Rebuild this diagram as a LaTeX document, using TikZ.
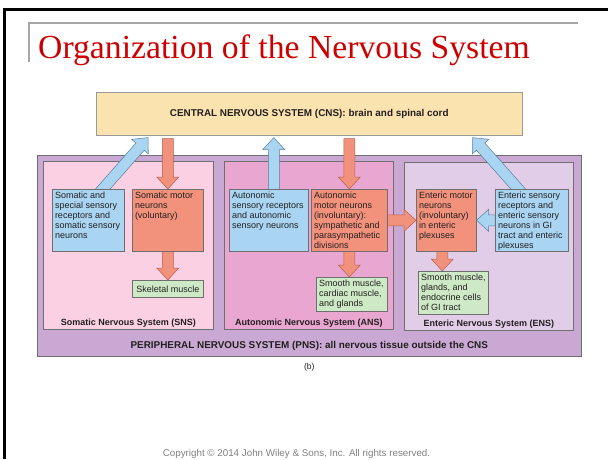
\documentclass[tikz,border=0pt]{standalone}
\usepackage{fontspec}
\setmainfont{Liberation Sans}
\newfontfamily\titlefont{Liberation Serif}
\usepackage{tikz}
\usetikzlibrary{calc,positioning,backgrounds}

\definecolor{cnsfill}{HTML}{FBE3B0}
\definecolor{pnsfill}{HTML}{C9A9D3}
\definecolor{snsfill}{HTML}{FBD0E3}
\definecolor{ansfill}{HTML}{E9A6D0}
\definecolor{ensfill}{HTML}{E2CDE9}
\definecolor{sensblue}{HTML}{A9D5F2}
\definecolor{sensedge}{HTML}{5B7F99}
\definecolor{motorred}{HTML}{F2927C}
\definecolor{motoredge}{HTML}{B5604E}
\definecolor{effgreen}{HTML}{CDE9C5}
\definecolor{edge}{HTML}{6F6F6F}
\definecolor{titlered}{HTML}{CC0000}
\definecolor{ink}{HTML}{231F20}

\tikzset{
  box/.style={draw=edge, line width=0.6pt, inner sep=0pt, anchor=north west},
  boxtext/.style={anchor=north west, inner sep=2.8pt, align=left, text=ink,
    font=\fontsize{9}{9.9}\selectfont},
  syslabel/.style={text=ink, inner sep=1pt, font=\bfseries\fontsize{9}{10}\selectfont},
  sensarrow/.style={fill=sensblue, draw=sensedge, line width=0.5pt},
  motorarrow/.style={fill=motorred, draw=motoredge, line width=0.5pt},
}

% block arrow: #1 style, #2 start, #3 tip
\newcommand\fatarrow[3]{
  \coordinate (fa-s) at (#2);
  \coordinate (fa-t) at (#3);
  \coordinate (fa-h) at ($(fa-t)!12pt!(fa-s)$);
  \filldraw[#1] ($(fa-s)!5.5pt!90:(fa-t)$) -- ($(fa-h)!5.5pt!90:(fa-t)$)
    -- ($(fa-h)!11pt!90:(fa-t)$) -- (fa-t) -- ($(fa-h)!11pt!-90:(fa-t)$)
    -- ($(fa-h)!5.5pt!-90:(fa-t)$) -- ($(fa-s)!5.5pt!-90:(fa-t)$) -- cycle;
}

\begin{document}
\begin{tikzpicture}[x=1pt,y=-1pt]
\useasboundingbox (0,0) rectangle (608,459);
\draw[line width=2.5pt] (608,9.5) -- (4.3,9.5) -- (4.3,459);
\draw[black!35, line width=1.5pt] (29,62) -- (29,23) -- (578,23);
\node[anchor=base west, inner sep=0pt, text=titlered, font=\titlefont\fontsize{33.7}{36}\selectfont] (title) at (38,58) {Organization of the Nervous System};

\begin{scope}[on background layer]
\node[box, draw=black!40, fill=cnsfill, minimum width=426, minimum height=43, text=ink, font=\bfseries\fontsize{9.9}{12}\selectfont] (cns) at (96,92) {CENTRAL NERVOUS SYSTEM (CNS): brain and spinal cord};
\node[box, fill=pnsfill, minimum width=544, minimum height=201] (pns) at (37,155) {};
\node[box, fill=snsfill, minimum width=170, minimum height=168] (sns) at (43,161) {};
\node[box, fill=ansfill, minimum width=169, minimum height=168] (ans) at (224,161) {};
\node[box, fill=ensfill, minimum width=169, minimum height=168] (ens) at (404,161.5) {};
\node[syslabel, above=1pt of sns.south] (sns-name) {Somatic Nervous System (SNS)};
\node[syslabel, above=1pt of ans.south] (ans-name) {Autonomic Nervous System (ANS)};
\node[syslabel, above=1pt of ens.south] (ens-name) {Enteric Nervous System (ENS)};
\node[syslabel, font=\bfseries\fontsize{9.9}{12}\selectfont, above=4.5pt of pns.south] (pns-name) {PERIPHERAL NERVOUS SYSTEM (PNS): all nervous tissue outside the CNS};
\node[text=ink, inner sep=1pt, font=\fontsize{8.5}{10}\selectfont, below=5.5pt of pns.south] (part) {(b)};
\end{scope}

% somatic
\node[box, fill=sensblue, minimum width=72, minimum height=62,
  label={[boxtext]north west:{Somatic and\\special sensory\\receptors and\\somatic sensory\\neurons}}] (sns-in) at (52,189) {};
\node[box, fill=motorred, minimum width=71, minimum height=62,
  label={[boxtext]north west:{Somatic motor\\neurons\\(voluntary)}}] (sns-out) at (132,189) {};
\node[box, fill=effgreen, minimum width=71, minimum height=17, text=ink, font=\fontsize{9}{9.9}\selectfont] (skel) at (132,280) {Skeletal muscle};

% autonomic
\node[box, fill=sensblue, minimum width=79, minimum height=62,
  label={[boxtext]north west:{Autonomic\\sensory receptors\\and autonomic\\sensory neurons}}] (ans-in) at (229,189) {};
\node[box, fill=motorred, minimum width=76, minimum height=62,
  label={[boxtext]north west:{Autonomic\\motor neurons\\(involuntary):\\sympathetic and\\parasympathetic\\divisions}}] (ans-out) at (311,189) {};
\node[box, fill=effgreen, minimum width=71, minimum height=34,
  label={[boxtext]north west:{Smooth muscle,\\cardiac muscle,\\and glands}}] (ans-eff) at (316,277) {};

% enteric
\node[box, fill=motorred, minimum width=60, minimum height=62,
  label={[boxtext]north west:{Enteric motor\\neurons\\(involuntary)\\in enteric\\plexuses}}] (ens-out) at (416,189) {};
\node[box, fill=sensblue, minimum width=73, minimum height=62,
  label={[boxtext]north west:{Enteric sensory\\receptors and\\enteric sensory\\neurons in GI\\tract and enteric\\plexuses}}] (ens-in) at (495,189) {};
\node[box, fill=effgreen, minimum width=70, minimum height=43,
  label={[boxtext]north west:{Smooth muscle,\\glands, and\\endocrine cells\\of GI tract}}] (ens-eff) at (418,271) {};

\begin{scope}[on background layer]
\fatarrow{sensarrow}{$(sns-in.north)+(11,4)$}{$(cns.south west)+(52,2)$}
\fatarrow{motorarrow}{$(sns-out.north |- cns.south)+(0,3)$}{sns-out.north}
\fatarrow{motorarrow}{sns-out.south}{skel.north}
\fatarrow{sensarrow}{$(ans-in.north)+(5,2)$}{$(ans-in.north |- cns.south)+(5,2)$}
\fatarrow{motorarrow}{$(ans-out.north |- cns.south)+(0,3)$}{ans-out.north}
\fatarrow{motorarrow}{ans-out.south}{ans-out.south |- ans-eff.north}
\fatarrow{motorarrow}{ans-out.east}{ens-out.west}
\fatarrow{sensarrow}{ens-in.west}{ens-out.east}
\fatarrow{motorarrow}{$(ens-out.south)+(-4,0)$}{$(ens-out.south |- ens-eff.north)+(-4,0)$}
\fatarrow{sensarrow}{$(ens-in.north)+(-10,4)$}{$(cns.south east)+(-50,2)$}
\end{scope}

\node[anchor=base, inner sep=0pt, text=black!50, font=\fontsize{9.8}{12}\selectfont] (copy) at (296.5,456.5) {Copyright © 2014 John Wiley \& Sons, Inc. All rights reserved.};
\end{tikzpicture}
\end{document}
